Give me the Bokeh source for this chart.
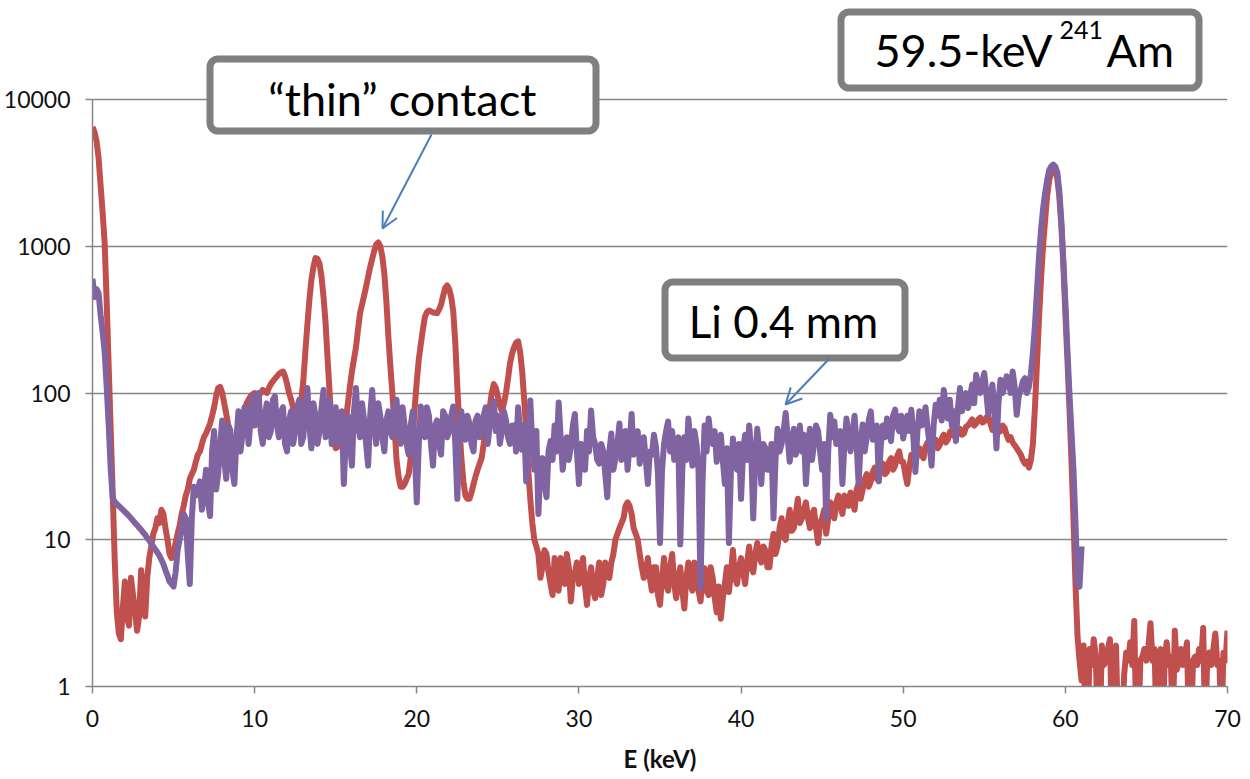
from bokeh.plotting import figure
from bokeh.models import (BoxAnnotation, Label, Arrow, OpenHead, FixedTicker,
                          NumeralTickFormatter, Range1d, ColumnDataSource)
from bokeh.embed import file_html
from bokeh.resources import INLINE

# ---------------- data ----------------
# counts at E = 0, 0.25, 0.5, ... keV  and at the half-way channels 0.125, 0.375, ...
energy_step_kev = 0.125

thin_contact_counts = [
    6500, 5200, 2600, 1050, 150, 20, 3.2, 2.1, 5.2, 2.6, 4.2, 2.4, 6.2, 3.0, 7.5, 11, 14, 16, 12, 8,
    8, 11, 15, 20, 26, 30, 38, 45, 53, 62, 80, 108, 100, 72, 52, 45, 41, 60, 85, 95,
    100, 95, 105, 100, 115, 125, 135, 140, 115, 90, 72, 72, 120, 290, 590, 830, 760, 450, 170, 62,
    42, 45, 50, 85, 140, 205, 350, 460, 620, 820, 1030, 1000, 650, 240, 98, 35, 23, 24, 28, 48,
    120, 215, 330, 365, 354, 350, 400, 520, 510, 360, 110, 36, 20, 19, 24, 30, 36, 55, 80, 115,
    95, 75, 100, 160, 205, 225, 140, 55, 19, 10, 8, 6.5, 8, 5, 7.5, 4.5, 6.5, 8, 3.8, 6,
    5, 7.5, 3.6, 6.5, 4, 7, 5, 6, 7, 10, 12, 14, 18, 15, 11, 8, 5.5, 7.5, 4.5, 6.5,
    3.6, 7.5, 4.5, 8, 4, 6.5, 3.4, 7, 4.5, 6, 3.8, 6.4, 4.2, 5.5, 3.2, 2.9, 5, 4.4, 8.5, 5,
    7.5, 5, 9, 6, 9.5, 7, 8.5, 6.5, 11, 9, 14, 10, 16, 12, 19, 14, 18, 12, 16, 9.5,
    14, 11, 18, 14, 20, 15, 19, 21, 16, 24, 22, 28, 25, 31, 27, 33, 29, 36, 32, 40,
    34, 24, 38, 32, 42, 36, 46, 40, 48, 44, 52, 48, 56, 50, 57, 53, 60, 66, 62, 68,
    64, 70, 56, 60, 55, 58, 48, 46, 42, 38, 33, 31, 45, 160, 600, 1500, 2800, 3450, 2900, 1400,
    350, 80, 14, 2.2, 1.1, 0.5, 1.8, 2.1, 0.5, 1.9, 1.5, 2.1, 1.6, 0.5, 0.5, 1.7, 2.0, 2.8, 0.5, 1.6,
    1.5, 2.7, 1.8, 1.4, 0.5, 2.0, 1.6, 2.4, 1.5, 1.4, 2.0, 0.5, 1.6, 1.8, 2.5, 1.5, 1.4, 2.3, 1.5, 1.7,
    2.4,
]
thin_contact_counts_mid = [
    6000, 4000, 1700, 420, 55, 7, 2.3, 3.5, 3.0, 5.5, 3.2, 3.0, 4.0, 5.5, 9, 12, 13, 15, 10, 7.5,
    9.5, 12.5, 17, 22, 28, 34, 40, 50, 57, 70, 95, 110, 85, 60, 48, 42, 48, 72, 90, 98,
    98, 100, 102, 108, 120, 130, 138, 130, 100, 80, 70, 90, 190, 430, 720, 820, 620, 300, 100, 50,
    43, 47, 65, 110, 170, 270, 400, 530, 720, 930, 1060, 850, 420, 150, 60, 27, 23, 26, 36, 80,
    170, 270, 355, 360, 352, 370, 460, 540, 450, 220, 60, 25, 19, 21, 27, 33, 45, 68, 100, 108,
    82, 85, 125, 185, 220, 190, 90, 30, 13, 9, 5.5, 8.5, 6, 4.2, 6.5, 7.5, 5, 6.5, 5.5, 7,
    6, 4.8, 5.5, 4.5, 5.5, 4.2, 7, 5.5, 8, 11, 13, 17, 17, 12, 10, 6.5, 6, 5.5, 6.5, 4.2,
    5.5, 5, 6.5, 5, 5.5, 4.5, 5.5, 5, 7, 4.5, 5.5, 4.5, 6.5, 4, 4.8, 4, 6.5, 6, 5.5, 6.5,
    6, 7, 6.5, 8, 7.5, 9, 6.5, 9, 8, 12, 10.5, 13, 11.5, 15, 13, 16, 14, 15, 12, 13,
    16, 14, 16, 18, 17, 20, 17, 18, 22, 19, 26, 23, 29, 26, 31, 28, 34, 30, 37, 34,
    28, 31, 34, 40, 38, 43, 41, 46, 42, 49, 46, 54, 51, 55, 52, 59, 63, 60, 66, 63,
    68, 62, 61, 54, 60, 52, 50, 44, 40, 35, 34, 35, 80, 320, 1000, 2200, 3200, 3300, 2200, 750,
    170, 35, 5, 1.5, 1.9, 0.5, 1.4, 1.6, 0.5, 1.4, 1.8, 0.5, 1.9, 0.5, 1.2, 1.5, 1.4, 0.5, 1.5, 1.8,
    1.9, 1.5, 0.5, 1.8, 1.5, 1.4, 0.5, 1.3, 1.8, 1.6, 0.5, 1.5, 1.4, 1.5, 0.5, 1.7, 1.8, 1.4, 0.5, 1.5,
]

li_04mm_counts = [
    600, 510, 340, 190, 60, 19, 17.5, 16.5, 15.5, 14.5, 13.5, 12.6, 11.7, 10.8, 9.9, 9.0, 8.2, 7.3, 6.2, 5.2,
    4.8, 8.5, 12, 14, 5, 23, 22, 16, 30, 14.5, 55, 28, 65, 26, 56, 24, 75, 52, 78, 65,
    60, 100, 45, 85, 55, 95, 50, 80, 40, 75, 55, 90, 50, 108, 42, 70, 55, 105, 60, 45,
    80, 55, 24, 70, 32, 108, 50, 65, 32, 105, 45, 70, 40, 75, 50, 90, 45, 60, 38, 75,
    18, 81, 50, 70, 32, 65, 38, 70, 55, 81, 19, 75, 48, 62, 40, 70, 55, 80, 60, 88,
    70, 55, 65, 45, 60, 80, 41, 25, 89, 30, 15, 36, 19.5, 47, 60, 86, 30, 50, 43, 72,
    24, 40, 55, 76, 45, 33, 40, 19.5, 53, 36, 62, 40, 30, 72, 45, 33, 50, 24, 38, 43,
    9.5, 45, 64, 55, 40, 9.3, 50, 67, 32, 45, 4.7, 60, 67, 45, 34, 52, 24, 9.5, 49, 30,
    19, 52, 60, 14, 57, 24, 42, 30, 14, 57, 45, 73, 34, 57, 47, 40, 24, 57, 45, 55,
    30, 14, 71, 64, 45, 24, 67, 40, 70, 24, 61, 50, 75, 55, 25, 60, 67, 47, 77, 55,
    49, 70, 77, 29, 75, 62, 58, 32, 83, 90, 105, 67, 60, 47, 108, 90, 79, 114, 133, 100,
    137, 71, 114, 42, 123, 110, 126, 140, 71, 105, 126, 110, 190, 500, 1300, 2300, 3300, 3600, 3200, 1500,
    420, 100, 30, 5, 9,
]
li_04mm_counts_mid = [
    450, 480, 260, 110, 30, 18.2, 17, 16, 15, 14, 13, 12.1, 11.2, 10.3, 9.4, 8.6, 7.8, 6.8, 5.7, 5.0,
    6, 10, 15, 8, 14, 20, 25, 22, 18, 40, 22, 45, 35, 60, 30, 48, 40, 80, 45, 95,
    80, 55, 70, 50, 90, 60, 75, 45, 65, 45, 80, 45, 80, 60, 85, 45, 80, 50, 90, 70,
    45, 75, 50, 45, 75, 60, 85, 45, 70, 60, 85, 50, 65, 55, 80, 55, 80, 45, 60, 40,
    45, 55, 80, 45, 60, 45, 75, 50, 70, 45, 50, 55, 70, 45, 65, 50, 70, 45, 75, 55,
    45, 75, 50, 60, 40, 55, 60, 50, 45, 55, 30, 25, 40, 35, 40, 50, 40, 35, 60, 40,
    45, 30, 40, 50, 35, 45, 28, 40, 30, 45, 35, 55, 45, 38, 55, 42, 35, 40, 52, 28,
    30, 55, 40, 35, 50, 30, 35, 45, 55, 30, 25, 40, 50, 55, 45, 35, 42, 30, 35, 45,
    40, 35, 40, 35, 40, 45, 30, 45, 35, 40, 55, 50, 45, 38, 60, 52, 40, 35, 60, 40,
    45, 40, 50, 45, 55, 45, 50, 55, 45, 45, 40, 65, 48, 60, 45, 50, 55, 70, 60, 70,
    60, 55, 50, 55, 60, 80, 45, 60, 70, 65, 80, 90, 75, 80, 75, 100, 95, 85, 110, 120,
    100, 95, 80, 85, 100, 130, 100, 110, 95, 120, 100, 135, 290, 850, 1800, 2800, 3500, 3500, 2400, 800,
    200, 55, 13, 4.8,
]

x_ticks = [0, 10, 20, 30, 40, 50, 60, 70]
y_ticks = [1, 10, 100, 1000, 10000]
x_label = "E (keV)"
label_thin = "\u201cthin\u201d contact"
label_li = "Li 0.4 mm"
label_src_main = "59.5-keV"
label_src_sup = "241"
label_src_elem = "Am"

RED = "#C0504D"
PURPLE = "#8064A2"
GRID = "#868686"
BOXLINE = "#7F7F7F"
ARROW = "#4A7EBB"
FONT = "Lato"


def interleave(main, mid):
    out = []
    for i, v in enumerate(main):
        out.append(v)
        if i < len(mid):
            out.append(mid[i])
    return out


red_c = interleave(thin_contact_counts, thin_contact_counts_mid)
pur_c = interleave(li_04mm_counts, li_04mm_counts_mid)
red_src = ColumnDataSource(dict(e=[round(i * energy_step_kev, 3) for i in range(len(red_c))], c=red_c))
pur_src = ColumnDataSource(dict(e=[round(i * energy_step_kev, 3) for i in range(len(pur_c))], c=pur_c))

# ---------------- geometry ----------------
FRAME_TOP_PAGE = 4        # frame extends above the 10000 line to hold the call-out boxes
AXIS_TOP_PAGE = 99        # page y of the 10000 gridline
FRAME_BOTTOM_PAGE = 686
PX_PER_DECADE = (FRAME_BOTTOM_PAGE - AXIS_TOP_PAGE) / 4.0
y_max = 10 ** (4 + (AXIS_TOP_PAGE - FRAME_TOP_PAGE) / PX_PER_DECADE)

p = figure(width=1241, height=776, y_axis_type="log",
           x_range=Range1d(0, 70), y_range=Range1d(1, y_max),
           output_backend="svg", toolbar_location=None,
           min_border_left=92, min_border_right=14,
           min_border_top=FRAME_TOP_PAGE, min_border_bottom=90)
p.outline_line_color = None
p.background_fill_color = "white"
p.border_fill_color = "white"

p.xaxis.ticker = FixedTicker(ticks=x_ticks)
p.yaxis.ticker = FixedTicker(ticks=y_ticks)
p.yaxis.formatter = NumeralTickFormatter(format="0")
p.yaxis.bounds = (1, 10000)
for ax in (p.xaxis, p.yaxis):
    ax.axis_line_color = GRID
    ax.axis_line_width = 1.5
    ax.major_tick_line_color = GRID
    ax.major_tick_line_width = 1.5
    ax.major_tick_in = 0
    ax.major_tick_out = 7
    ax.minor_tick_line_color = None
    ax.major_label_text_font = FONT
    ax.major_label_text_font_size = "23px"
    ax.major_label_text_color = "#111111"
p.yaxis.major_label_standoff = 15
p.xaxis.major_label_standoff = 16
p.xaxis.axis_label = x_label
p.xaxis.axis_label_text_font = FONT
p.xaxis.axis_label_text_font_style = "bold"
p.xaxis.axis_label_text_font_size = "24px"
p.xaxis.axis_label_text_color = "#111111"
p.xaxis.axis_label_standoff = 14

p.xgrid.grid_line_color = None
p.ygrid.grid_line_color = GRID
p.ygrid.grid_line_width = 1.5

p.line("e", "c", source=red_src, line_color=RED, line_width=6, line_join="round")
p.line("e", "c", source=pur_src, line_color=PURPLE, line_width=6, line_join="round")

# ---------------- annotations (screen units relative to frame) ----------------
FL, FB = 93, FRAME_BOTTOM_PAGE
def sx(px):
    return px - FL
def sy(py):
    return FB - py

def box(l, t, r, b):
    p.add_layout(BoxAnnotation(left=sx(l), right=sx(r), top=sy(t), bottom=sy(b),
                               left_units="screen", right_units="screen",
                               top_units="screen", bottom_units="screen",
                               fill_color="white", fill_alpha=1.0,
                               line_color=BOXLINE, line_width=7, line_alpha=1.0,
                               border_radius=8))

def text(px, py, s, size, align="left", baseline="alphabetic"):
    p.add_layout(Label(x=sx(px), y=sy(py), x_units="screen", y_units="screen",
                       text=s, text_font=FONT, text_font_size=size,
                       text_align=align, text_baseline=baseline, text_color="black"))

box(210.5, 58.5, 596.5, 130.5)
text(403, 98, label_thin, "45px", align="center")

box(841.5, 11.5, 1199.5, 87.5)
text(875, 49, label_src_main, "45px")
text(1060, 29, label_src_sup, "25px")
text(1107, 49, label_src_elem, "45px")

box(665.5, 281.5, 905.5, 357.5)
text(784, 320, label_li, "44px", align="center")

p.add_layout(Arrow(x_start=sx(432), y_start=sy(134), x_end=sx(383), y_end=sy(228),
                   start_units="screen", end_units="screen",
                   line_color=ARROW, line_width=2,
                   end=OpenHead(size=16, line_color=ARROW, line_width=2)))
p.add_layout(Arrow(x_start=sx(830), y_start=sy(358), x_end=sx(786), y_end=sy(404),
                   start_units="screen", end_units="screen",
                   line_color=ARROW, line_width=2,
                   end=OpenHead(size=16, line_color=ARROW, line_width=2)))

open("out.html", "w").write(file_html(p, INLINE))
